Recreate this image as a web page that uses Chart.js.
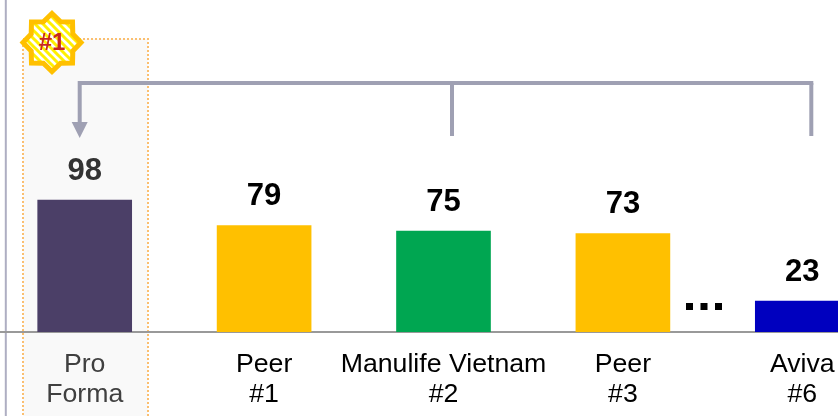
<!DOCTYPE html>
<html><head><meta charset="utf-8">
<style>
html,body{margin:0;padding:0;background:#fff;width:838px;height:416px;overflow:hidden}
#wrap{position:absolute;left:-5px;top:0;width:897px;height:416px}
</style>
<script src="https://cdn.jsdelivr.net/npm/chart.js@4/dist/chart.umd.min.js"></script>
</head><body><div id="wrap"><canvas id="c" width="897" height="416"></canvas></div>
<script>
const categories=[["Pro","Forma"],["Peer","#1"],["Manulife Vietnam","#2"],["Peer","#3"],["Aviva","#6"]];
const values=[98,79,75,73,23];
const barColors=["#4B3F67","#FFC000","#00A651","#FFC000","#0000BF"];
const font='"Liberation Sans", Arial, sans-serif';
const GREY='#9FA0B3';

function hatch(ctx){
  const p=document.createElement('canvas');p.width=p.height=8;
  const g=p.getContext('2d');g.fillStyle='#fff';g.fillRect(0,0,8,8);
  g.strokeStyle='#FFF000';g.lineWidth=3;
  g.beginPath();g.moveTo(-2,-2);g.lineTo(10,10);g.moveTo(-2,6);g.lineTo(2,10);g.moveTo(6,-2);g.lineTo(10,2);g.stroke();
  return ctx.createPattern(p,'repeat');
}
const deco={
  id:'deco',
  beforeDraw(chart){
    const c=chart.ctx;c.save();c.translate(5,0);
    c.fillStyle='#F9F9F9';c.fillRect(23,39,125,377);
    c.strokeStyle='#FBBF70';c.lineWidth=2;c.setLineDash([2,2]);
    c.strokeRect(23,39,125,385);c.setLineDash([]);
    c.strokeStyle='#AEAEC2';c.lineWidth=2;c.beginPath();c.moveTo(5.8,0);c.lineTo(5.8,416);c.stroke();
    c.restore();
  },
  afterDatasetsDraw(chart){
    const c=chart.ctx,xs=chart.scales.x,ys=chart.scales.y,m=chart.getDatasetMeta(0);
    c.save();c.textAlign='center';c.textBaseline='middle';
    c.font='bold 31px '+font;
    values.forEach((v,i)=>{c.fillStyle=i===0?'#333333':'#000000';c.fillText(String(v),m.data[i].x,ys.getPixelForValue(v)-29);});
    c.strokeStyle=GREY;c.lineWidth=4;c.lineJoin='miter';
    const x0=xs.getPixelForValue(0)-5,x2=xs.getPixelForValue(2)+8.5,x4=xs.getPixelForValue(4)+9;
    const yh=83;
    c.beginPath();c.moveTo(x4+2,yh);c.lineTo(x0,yh);c.lineTo(x0,124);c.stroke();
    c.beginPath();c.moveTo(x2,yh);c.lineTo(x2,136);c.moveTo(x4,yh);c.lineTo(x4,136);c.stroke();
    c.fillStyle=GREY;c.beginPath();c.moveTo(x0-8,122);c.lineTo(x0+8,122);c.lineTo(x0,138);c.closePath();c.fill();
    c.fillStyle='#000';
    [686,700.5,715].forEach(x=>c.fillRect(x+5,303,7,7));
    const cx=57,cy=42.5,R=29,r=22.5;
    c.beginPath();
    for(let i=0;i<16;i++){const a=-Math.PI/2+i*Math.PI/8,q=i%2?r:R;c[i?'lineTo':'moveTo'](cx+q*Math.cos(a),cy+q*Math.sin(a));}
    c.closePath();c.fillStyle=hatch(c);c.fill();
    c.strokeStyle='#FFC000';c.lineWidth=5;c.lineJoin='miter';c.stroke();
    c.fillStyle='#C8281E';c.font='bold 24px '+font;c.fillText('#1',cx,cy+1);
    c.restore();
  }
};
new Chart(document.getElementById('c'),{
  type:'bar',
  data:{labels:categories,datasets:[{data:values,backgroundColor:barColors,barThickness:94,borderWidth:0}]},
  plugins:[deco],
  options:{
    responsive:false,animation:false,devicePixelRatio:1,
    layout:{padding:0},
    plugins:{legend:{display:false},tooltip:{enabled:false}},
    scales:{
      x:{
        z:1,
        afterFit(s){s.height=84;},
        grid:{display:false,drawTicks:false},
        border:{display:true,color:'#999999',width:2},
        ticks:{
          maxRotation:0,minRotation:0,autoSkip:false,padding:18,
          font:{family:font,size:26.7,lineHeight:1.124},
          color:ctx=>ctx.index===0?'#404040':'#000000'
        }
      },
      y:{display:false,min:0,max:246.5}
    }
  }
});
</script></body></html>
